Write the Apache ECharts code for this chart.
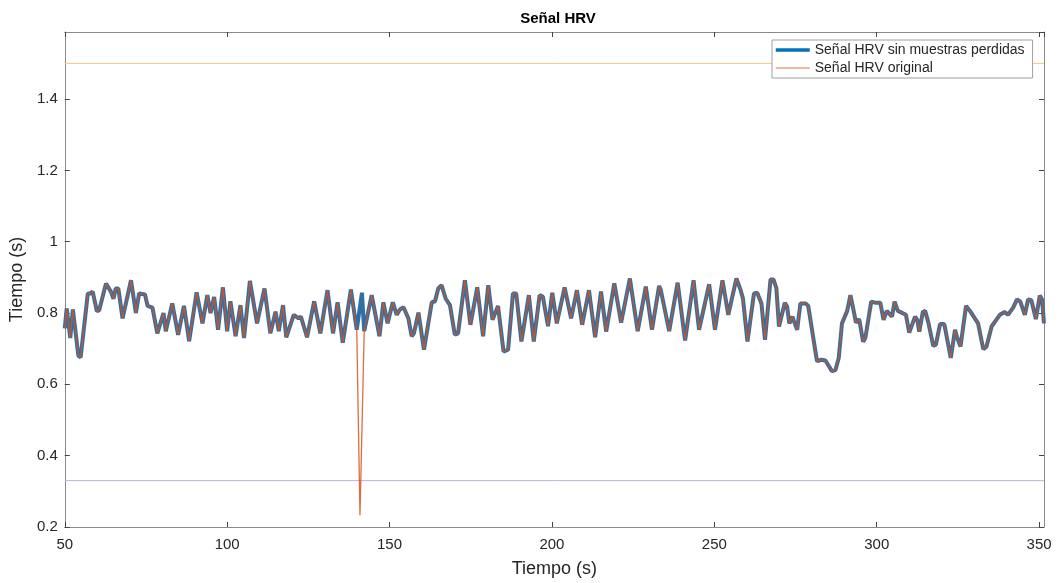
<!DOCTYPE html>
<html>
<head>
<meta charset="utf-8">
<script src="https://cdn.jsdelivr.net/npm/echarts@6/dist/echarts.min.js"></script>
<style>html,body{margin:0;padding:0;background:#fff;overflow:hidden}#c{width:1059px;height:583px}</style>
</head>
<body>
<div id="c"></div>
<script>
const chartTitle = 'Señal HRV';
const xAxisName = 'Tiempo (s)';
const yAxisName = 'Tiempo (s)';
const seriesNames = ['Señal HRV sin muestras perdidas', 'Señal HRV original'];
const xMin = 50, xMax = 351.5, xStep = 50;
const yMin = 0.2, yMax = 1.588, yStep = 0.2;
const upperLimit = 1.5;
const lowerLimit = 0.33;

const timeSec = [
50.0,50.6,51.7,52.5,54.2,54.9,57.1,57.9,58.6,59.9,60.6,62.7,64.2,65.0,65.7,66.5,67.8,68.4,70.4,71.9,
72.9,74.7,75.5,77.0,78.5,80.4,81.1,83.1,84.9,86.7,88.3,90.6,92.4,93.9,94.9,96.0,97.2,98.7,100.0,101.0,
102.6,104.1,105.2,107.0,109.2,111.5,113.3,114.9,115.9,117.2,118.2,120.5,122.0,122.7,124.6,126.8,128.7,130.9,132.6,134.0,
135.6,138.1,139.9,141.5,142.2,144.5,146.9,148.1,149.4,151.0,152.2,153.2,154.3,155.8,156.8,157.5,158.9,160.6,163.0,164.0,
165.0,166.0,167.3,168.6,170.1,171.1,173.2,174.9,177.0,178.8,180.4,181.7,183.4,185.1,186.5,188.0,189.0,190.6,192.9,194.4,
196.2,197.2,198.8,200.1,201.5,203.9,205.9,207.7,209.3,211.4,213.3,215.1,216.7,219.2,221.3,224.0,226.4,228.9,230.8,233.0,
233.5,236.1,238.7,241.0,243.6,245.3,248.4,250.2,252.5,254.3,256.8,258.1,258.8,260.2,260.7,262.2,263.2,263.8,264.5,265.6,
267.3,268.2,269.1,269.9,271.7,272.4,273.1,274.0,275.5,276.5,277.0,278.1,278.9,281.6,283.0,284.2,285.0,286.2,287.3,288.3,
289.3,290.9,291.9,292.9,293.6,294.6,295.8,296.5,298.3,299.5,301.1,302.1,303.1,304.7,305.5,306.5,307.7,309.0,310.0,311.8,
312.5,313.1,314.2,314.9,315.9,317.4,318.2,319.5,320.8,322.8,324.1,324.8,325.8,327.5,328.7,331.2,332.8,333.8,335.4,337.9,
339.4,340.4,342.0,343.2,344.2,345.6,346.6,347.6,349.0,350.2,350.9,351.5
];
const hrvClean = [
0.757,0.813,0.730,0.810,0.680,0.676,0.855,0.855,0.860,0.805,0.808,0.883,0.860,0.840,0.869,0.869,0.785,0.785,0.892,0.800,
0.855,0.852,0.820,0.815,0.743,0.800,0.749,0.827,0.739,0.820,0.721,0.858,0.771,0.850,0.800,0.845,0.753,0.872,0.749,0.833,
0.735,0.822,0.730,0.890,0.771,0.869,0.743,0.804,0.749,0.822,0.732,0.795,0.785,0.790,0.732,0.833,0.743,0.864,0.743,0.830,
0.717,0.866,0.753,0.857,0.749,0.850,0.735,0.830,0.771,0.830,0.795,0.810,0.816,0.785,0.735,0.743,0.801,0.697,0.830,0.833,
0.869,0.878,0.840,0.822,0.739,0.743,0.892,0.767,0.872,0.735,0.878,0.781,0.820,0.692,0.697,0.855,0.855,0.720,0.850,0.720,
0.850,0.846,0.763,0.857,0.771,0.872,0.785,0.864,0.767,0.864,0.732,0.860,0.748,0.883,0.773,0.897,0.749,0.874,0.753,0.876,
0.865,0.749,0.885,0.723,0.892,0.753,0.881,0.753,0.892,0.795,0.897,0.864,0.841,0.720,0.725,0.855,0.857,0.857,0.827,0.725,
0.894,0.894,0.870,0.762,0.829,0.818,0.771,0.790,0.753,0.827,0.822,0.827,0.820,0.665,0.669,0.667,0.655,0.637,0.640,0.674,
0.771,0.806,0.850,0.806,0.773,0.783,0.720,0.730,0.832,0.829,0.829,0.781,0.806,0.790,0.832,0.806,0.801,0.795,0.745,0.790,
0.780,0.748,0.803,0.806,0.773,0.708,0.711,0.769,0.769,0.674,0.753,0.730,0.706,0.820,0.806,0.771,0.699,0.706,0.763,0.795,
0.803,0.795,0.815,0.838,0.832,0.795,0.838,0.836,0.783,0.849,0.838,0.771
];
// original signal: same samples, except the lost sample that the clean signal replaced
const replacedTime = [141.5];
const dipTime = [140.9];
const dipValue = [0.233];

const cleanData = timeSec.map((t, i) => [t, hrvClean[i]]);
const originalData = cleanData
  .filter(p => replacedTime.indexOf(p[0]) < 0)
  .concat(dipTime.map((t, i) => [t, dipValue[i]]))
  .sort((a, b) => a[0] - b[0]);

const font = "'Liberation Sans', Arial, Helvetica, sans-serif";
const axisGray = '#8a8a8a';
const tickDark = '#444';
const blue = '#2f6fa8', orange = '#D95319';

const chart = echarts.init(document.getElementById('c'), null, {renderer: 'canvas'});
const baseX = {
  type: 'value', min: xMin, max: xMax, interval: xStep,
  axisLine: {show: true, lineStyle: {color: axisGray, width: 1}},
  axisTick: {show: true, inside: true, length: 5, lineStyle: {color: tickDark}},
  splitLine: {show: false}
};
const baseY = {
  type: 'value', min: yMin, max: yMax, interval: yStep,
  axisLine: {show: true, onZero: false, lineStyle: {color: axisGray, width: 1}},
  axisTick: {show: true, inside: true, length: 5, lineStyle: {color: tickDark}},
  splitLine: {show: false}
};

chart.setOption({
  animation: false,
  backgroundColor: '#fff',
  title: {
    text: chartTitle, left: 553, top: 6, textAlign: 'center',
    textStyle: {fontFamily: font, fontSize: 15, fontWeight: 'bold', color: '#000'}
  },
  grid: {left: 62, right: 15, top: 32, bottom: 52.5, containLabel: false},
  legend: {
    data: [
      {name: seriesNames[0], lineStyle: {width: 3.5, color: '#0072BD'}},
      {name: seriesNames[1], lineStyle: {width: 1, color: orange}}
    ],
    orient: 'vertical', left: 772, top: 40,
    itemWidth: 34, itemHeight: 14, itemGap: 4, itemTextGap: 3,
    padding: [3, 8, 3, 2],
    itemStyle: {opacity: 0},
    backgroundColor: '#fff', borderColor: '#a0a0a0', borderWidth: 1,
    textStyle: {fontFamily: font, fontSize: 14, color: '#262626'}
  },
  xAxis: [
    Object.assign({}, baseX, {
      position: 'bottom',
      name: xAxisName, nameLocation: 'middle', nameGap: 33,
      nameTextStyle: {fontFamily: font, fontSize: 18, color: '#262626'},
      axisLabel: {show: true, margin: 10, fontFamily: font, fontSize: 15, color: '#262626', showMaxLabel: false, showMinLabel: true}
    }),
    Object.assign({}, baseX, {position: 'top', axisLabel: {show: false}})
  ],
  yAxis: [
    Object.assign({}, baseY, {
      position: 'left',
      name: yAxisName, nameLocation: 'middle', nameGap: 30,
      nameTextStyle: {fontFamily: font, fontSize: 18, color: '#262626'},
      axisLabel: {show: true, margin: 7, fontFamily: font, fontSize: 15, color: '#262626', showMaxLabel: false}
    }),
    Object.assign({}, baseY, {position: 'right', axisLabel: {show: false}})
  ],
  series: [
    {
      name: seriesNames[0], type: 'line', data: cleanData,
      symbol: 'none', showSymbol: false,
      lineStyle: {color: blue, width: 4}, itemStyle: {color: blue},
      z: 2
    },
    {
      name: seriesNames[1], type: 'line', data: originalData,
      symbol: 'none', showSymbol: false,
      lineStyle: {color: orange, width: 1.3, opacity: 0.85}, itemStyle: {color: orange},
      z: 3
    },
    {
      name: 'upper', type: 'line', data: [[xMin, upperLimit], [xMax, upperLimit]],
      symbol: 'none', lineStyle: {color: '#EFCB80', width: 1}, z: 1
    },
    {
      name: 'lower', type: 'line', data: [[xMin, lowerLimit], [xMax, lowerLimit]],
      symbol: 'none', lineStyle: {color: '#BFB2D6', width: 1}, z: 1
    }
  ]
});
</script>
</body>
</html>
